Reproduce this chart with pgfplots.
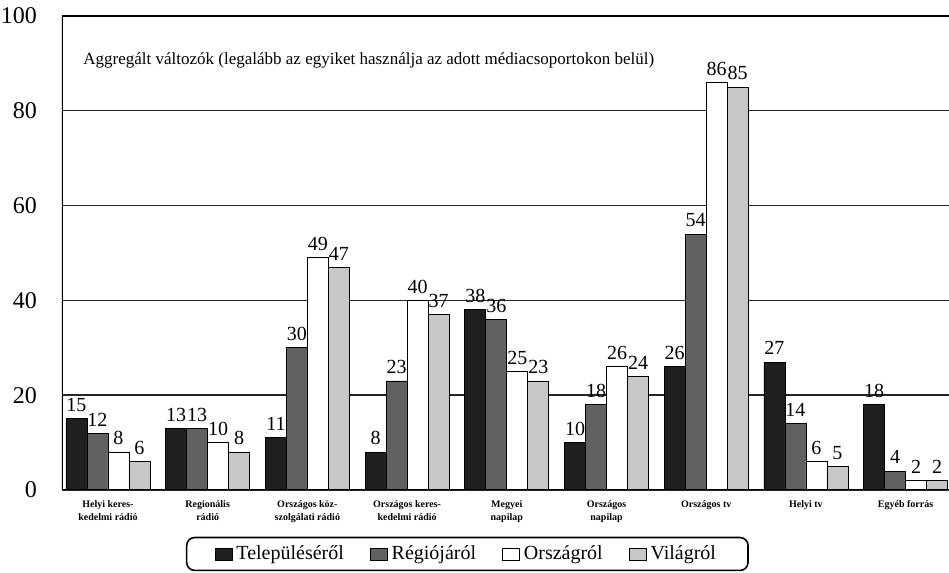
\documentclass[border=0pt]{standalone}
\usepackage{fontspec}
\setmainfont{Liberation Serif}
\usepackage{pgfplots}
\pgfplotsset{compat=1.18}
\begin{document}
\begin{tikzpicture}
\begin{axis}[
  at={(0,0)}, anchor=south west,
  scale only axis, width=443.5pt, height=237pt,
  xmin=-0.461, xmax=8.435, ymin=0, ymax=100,
  ybar=0pt, bar width=10.5pt,
  ytick={0,20,...,100},
  xtick={0,...,8},
  xticklabels={{Helyi keres-\\kedelmi rádió},{Regionális\\rádió},{Országos köz-\\szolgálati rádió},{Országos keres-\\kedelmi rádió},{Megyei\\napilap},{Országos\\napilap},{Országos tv},{Helyi tv},{Egyéb forrás}},
  xticklabel style={font=\bfseries\fontsize{5}{6.5}\selectfont, align=center, anchor=north, yshift=-1.5pt},
  yticklabel style={font=\fontsize{12}{12}\selectfont, anchor=east, xshift=-9pt},
  /pgf/number format/assume math mode=true,
  ymajorgrids, grid style={black!85, line width=0.7pt},
  major tick length=0pt,
  axis line style={draw=none},
  nodes near coords,
  every node near coord/.append style={font=\fontsize{10}{10}\selectfont, black},
  legend style={at={(0.457,-0.135)}, anchor=center, legend columns=4, draw=black, line width=0.8pt, rounded corners=4pt, font=\fontsize{10}{11}\selectfont, inner xsep=14pt, inner ysep=2pt, /tikz/every even column/.append style={column sep=11pt}},
  legend image code/.code={\draw[#1,sharp corners,line width=0.4pt,draw=black] (0pt,-3pt) rectangle (8.5pt,3pt);},
]
\addplot[fill=black!88, draw=black, line width=0.4pt] coordinates {(0,15) (1,13) (2,11) (3,8) (4,38) (5,10) (6,26) (7,27) (8,18)};
\addplot[fill=black!62, draw=black, line width=0.4pt] coordinates {(0,12) (1,13) (2,30) (3,23) (4,36) (5,18) (6,54) (7,14) (8,4)};
\addplot[fill=white, draw=black, line width=0.4pt] coordinates {(0,8) (1,10) (2,49) (3,40) (4,25) (5,26) (6,86) (7,6) (8,2)};
\addplot[fill=black!22, draw=black, line width=0.4pt] coordinates {(0,6) (1,8) (2,47) (3,37) (4,23) (5,24) (6,85) (7,5) (8,2)};
\legend{Településéről,Régiójáról,Országról,Világról}
\draw[black, line width=1pt] (rel axis cs:0,1) -- (rel axis cs:0,0) -- (rel axis cs:1,0);
\draw[black, line width=1pt] (rel axis cs:0,1) -- (rel axis cs:1,1);
\node[anchor=west, font=\fontsize{8.5}{10}\selectfont, inner sep=0pt] at (rel axis cs:0.0237,0.907) {Aggregált változók (legalább az egyiket használja az adott médiacsoportokon belül)};
\end{axis}
\pgfresetboundingbox
\path (-31pt,-41.5pt) rectangle (443.5pt,245pt);
\end{tikzpicture}
\end{document}
